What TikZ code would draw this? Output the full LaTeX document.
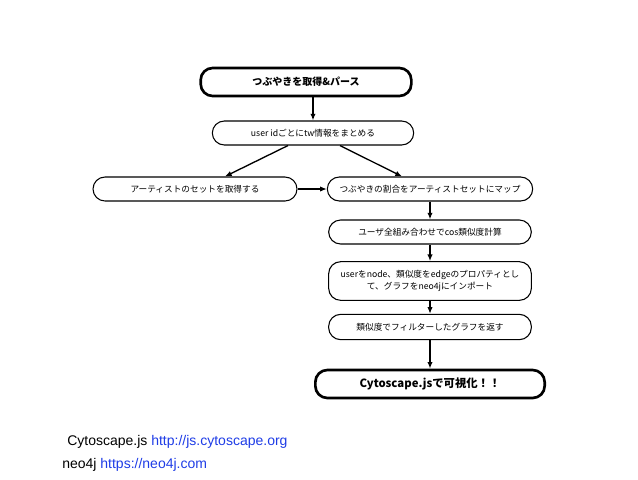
\documentclass[tikz,border=0pt]{standalone}
\usepackage{fontspec}
\setmainfont{Noto Sans CJK JP}
\newfontfamily\lat{Liberation Sans}
\usetikzlibrary{arrows.meta}
\definecolor{linkblue}{RGB}{30,60,230}
\begin{document}
\begin{tikzpicture}[x=0.75pt,y=-0.75pt,
  box/.style={draw,rounded corners=9pt,line width=0.8pt,font=\fontsize{6.5}{8.5}\selectfont,align=center,inner sep=0pt},
  bigbox/.style={box,line width=2pt,font=\bfseries\fontsize{7.5}{9}\selectfont},
  arr/.style={-{Latex[length=5pt,width=4pt]},line width=1pt}]
\useasboundingbox (0,0) rectangle (638,479);
\node[bigbox,minimum width=158pt,minimum height=21pt] (n1) at (306,82) {つぶやきを取得\&パース};
\node[box,minimum width=151pt,minimum height=18pt] (n2) at (313,133) {user idごとにtw情報をまとめる};
\node[box,minimum width=153pt,minimum height=18pt] (n3) at (195,189) {アーティストのセットを取得する};
\node[box,minimum width=154pt,minimum height=18pt] (n4) at (430,189) {つぶやきの割合をアーティストセットにマップ};
\node[box,minimum width=152pt,minimum height=18pt] (n5) at (430,232) {ユーザ全組み合わせでcos類似度計算};
\node[box,minimum width=152pt,minimum height=29pt] (n6) at (430,281) {userをnode、類似度をedgeのプロパティとし\\て、グラフをneo4jにインポート};
\node[box,minimum width=152pt,minimum height=19pt] (n7) at (430,327) {類似度でフィルターしたグラフを返す};
\node[bigbox,minimum width=172pt,minimum height=21pt,font=\bfseries\fontsize{8.5}{10}\selectfont] (n8) at (430,384) {Cytoscape.jsで可視化！！};
\draw[arr] (n1.south -| 313,0) -- (n2.north -| 313,0);
\draw[arr] (n2.south -| 288,0) -- (n3.north -| 225,0);
\draw[arr] (n2.south -| 340,0) -- (n4.north -| 402,0);
\draw[arr] (n3) -- (n4);
\draw[arr] (n4) -- (n5);
\draw[arr] (n5) -- (n6);
\draw[arr] (n6) -- (n7);
\draw[arr] (n7) -- (n8);
\node[anchor=west,inner sep=0pt,font=\lat\fontsize{10.5}{12}\selectfont] (t1) at (67,442) {Cytoscape.js \textcolor{linkblue}{http://js.cytoscape.org}};
\node[anchor=west,inner sep=0pt,font=\lat\fontsize{10.5}{12}\selectfont] (t2) at (62,465) {neo4j \textcolor{linkblue}{https://neo4j.com}};
\end{tikzpicture}
\end{document}
